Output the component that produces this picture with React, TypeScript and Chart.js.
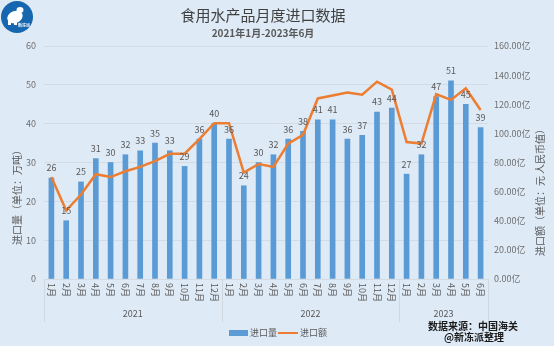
import React, { useEffect, useRef } from "react";
import { Chart, registerables } from "chart.js";

Chart.register(...registerables);

const months = [
  "1月", "2月", "3月", "4月", "5月", "6月", "7月", "8月", "9月", "10月", "11月", "12月",
  "1月", "2月", "3月", "4月", "5月", "6月", "7月", "8月", "9月", "10月", "11月", "12月",
  "1月", "2月", "3月", "4月", "5月", "6月",
];
const years = ["2021", "2022", "2023"];
const yearCounts = [12, 12, 6];
const volume = [
  26, 15, 25, 31, 30, 32, 33, 35, 33, 29, 36, 40,
  36, 24, 30, 32, 36, 38, 41, 41, 36, 37, 43, 44,
  27, 32, 47, 51, 45, 39,
];
const amount = [
  70, 47, 58, 72, 70, 74, 77, 81, 86, 86, 96, 107,
  107, 73, 79, 77, 93, 99, 124, 126, 128, 126.5, 135.5, 130,
  94, 93, 127, 123, 131, 116,
];
const leftTicks = [0, 10, 20, 30, 40, 50, 60];
const rightTicks = [0, 20, 40, 60, 80, 100, 120, 140, 160];

const FONT = '"Noto Sans CJK SC", "Noto Sans", sans-serif';
const BLUE = "#5b9bd5";
const ORANGE = "#ed7d31";
const TXT = "#595959";

const decorPlugin = {
  id: "decor",
  afterDatasetsDraw(chart: any) {
    const ctx = chart.ctx;
    const x = chart.scales.x;
    const area = chart.chartArea;
    const meta = chart.getDatasetMeta(0);
    ctx.save();
    // data labels
    ctx.font = `9px ${FONT}`;
    ctx.fillStyle = TXT;
    ctx.textAlign = "center";
    ctx.textBaseline = "middle";
    meta.data.forEach((bar: any, i: number) => {
      ctx.fillText(String(volume[i]), bar.x, bar.y - 10);
    });
    ctx.restore();
  },
  afterDraw(chart: any) {
    const ctx = chart.ctx;
    const x = chart.scales.x;
    const area = chart.chartArea;
    ctx.save();
    // month labels rotated clockwise
    ctx.font = `9px ${FONT}`;
    ctx.fillStyle = TXT;
    months.forEach((m, i) => {
      const px = x.getPixelForValue(i);
      ctx.save();
      ctx.translate(px, area.bottom + 4);
      ctx.rotate(Math.PI / 2);
      ctx.textAlign = "left";
      ctx.textBaseline = "middle";
      ctx.fillText(m, 0, 0);
      ctx.restore();
    });
    // separators + year labels
    ctx.strokeStyle = "#d0d7df";
    ctx.lineWidth = 1;
    let start = 0;
    const half = (x.getPixelForValue(1) - x.getPixelForValue(0)) / 2;
    const bounds: number[] = [area.left];
    yearCounts.forEach((c, yi) => {
      const end = start + c - 1;
      const right = yi === yearCounts.length - 1 ? area.right : x.getPixelForValue(end) + half;
      bounds.push(right);
      const cx = (x.getPixelForValue(start) + x.getPixelForValue(end)) / 2;
      ctx.fillStyle = TXT;
      ctx.font = `9px ${FONT}`;
      ctx.textAlign = "center";
      ctx.textBaseline = "middle";
      ctx.fillText(years[yi], cx, 314);
      start += c;
    });
    bounds.forEach((b) => {
      const bx = Math.round(b) + 0.5;
      ctx.beginPath();
      ctx.moveTo(bx, area.bottom);
      ctx.lineTo(bx, 322);
      ctx.stroke();
    });
    // axis titles
    ctx.fillStyle = TXT;
    ctx.font = `10px ${FONT}`;
    ctx.textAlign = "center";
    ctx.textBaseline = "middle";
    ctx.save();
    ctx.translate(17, 195);
    ctx.rotate(-Math.PI / 2);
    ctx.fillText("进口量（单位：万吨）", 0, 0);
    ctx.restore();
    ctx.save();
    ctx.translate(540, 190);
    ctx.rotate(-Math.PI / 2);
    ctx.fillText("进口额（单位：元 人民币值）", 0, 0);
    ctx.restore();
    // legend
    ctx.fillStyle = BLUE;
    ctx.fillRect(229, 330, 19, 6);
    ctx.fillStyle = TXT;
    ctx.font = `9px ${FONT}`;
    ctx.textAlign = "left";
    ctx.fillText("进口量", 250, 333);
    ctx.strokeStyle = ORANGE;
    ctx.lineWidth = 2;
    ctx.beginPath();
    ctx.moveTo(278, 333);
    ctx.lineTo(298, 333);
    ctx.stroke();
    ctx.fillText("进口额", 300, 333);
    // source
    ctx.fillStyle = "#1a1a1a";
    ctx.font = `bold 10px ${FONT}`;
    ctx.textAlign = "center";
    ctx.fillText("数据来源：中国海关", 473, 326);
    ctx.fillText("@新冻派整理", 474, 337);
    // title
    ctx.fillStyle = "#404040";
    ctx.font = `15px ${FONT}`;
    ctx.fillText("食用水产品月度进口数据", 263, 15);
    ctx.fillStyle = TXT;
    ctx.font = `bold 10px ${FONT}`;
    ctx.fillText("2021年1月-2023年6月", 263, 33);
    // logo
    ctx.fillStyle = "#1667b0";
    ctx.beginPath();
    ctx.arc(17, 17, 16, 0, Math.PI * 2);
    ctx.fill();
    ctx.fillStyle = "#ffffff";
    ctx.beginPath();
    ctx.ellipse(15, 17, 8, 6, -0.4, 0, Math.PI * 2);
    ctx.fill();
    ctx.beginPath();
    ctx.ellipse(20, 10, 3.5, 3, 0, 0, Math.PI * 2);
    ctx.fill();
    ctx.fillRect(8, 20, 3, 5);
    ctx.fillRect(14, 21, 3, 4);
    ctx.font = `bold 4px ${FONT}`;
    ctx.fillText("新冻派", 24, 25);
    ctx.restore();
  },
};

export default function App() {
  const ref = useRef<HTMLCanvasElement>(null);
  useEffect(() => {
    document.body.style.margin = "0";
    const chart = new Chart(ref.current!, {
      type: "bar",
      data: {
        labels: months,
        datasets: [
          {
            type: "bar",
            label: "进口量",
            data: volume,
            backgroundColor: BLUE,
            barThickness: 5,
            yAxisID: "y",
            order: 2,
          },
          {
            type: "line",
            label: "进口额",
            data: amount,
            borderColor: ORANGE,
            borderWidth: 2.5,
            pointRadius: 0,
            tension: 0,
            yAxisID: "y1",
            order: 1,
          } as any,
        ],
      },
      options: {
        animation: false,
        responsive: false,
        layout: { padding: { top: 46, left: 0, right: 0, bottom: 0 } },
        plugins: { legend: { display: false }, tooltip: { enabled: false } },
        scales: {
          x: {
            offset: true,
            grid: { display: false },
            border: { display: false },
            ticks: { display: false },
            afterFit: (s: any) => { s.height = 67; },
          },
          y: {
            position: "left",
            min: 0,
            max: 60,
            afterBuildTicks: (s: any) => { s.ticks = leftTicks.map((v) => ({ value: v })); },
            grid: { color: "#d3dbe4", drawTicks: false },
            border: { display: false },
            ticks: { color: "#6f6f6f", font: { size: 9, family: FONT }, padding: 8 },
            afterFit: (s: any) => { s.width = 44; },
          },
          y1: {
            position: "right",
            min: 0,
            max: 160,
            afterBuildTicks: (s: any) => { s.ticks = rightTicks.map((v) => ({ value: v })); },
            grid: { display: false, drawTicks: false },
            border: { display: false },
            ticks: {
              color: "#6f6f6f",
              font: { size: 9, family: FONT },
              padding: 6,
              callback: (v: any) => Number(v).toFixed(2) + "亿",
            },
            afterFit: (s: any) => { s.width = 66; },
          },
        },
      },
      plugins: [decorPlugin],
    });
    return () => chart.destroy();
  }, []);
  return (
    <div style={{ width: 554, height: 346, background: "#deeaf6", position: "relative" }}>
      <canvas ref={ref} width={554} height={346} style={{ display: "block" }} />
    </div>
  );
}
